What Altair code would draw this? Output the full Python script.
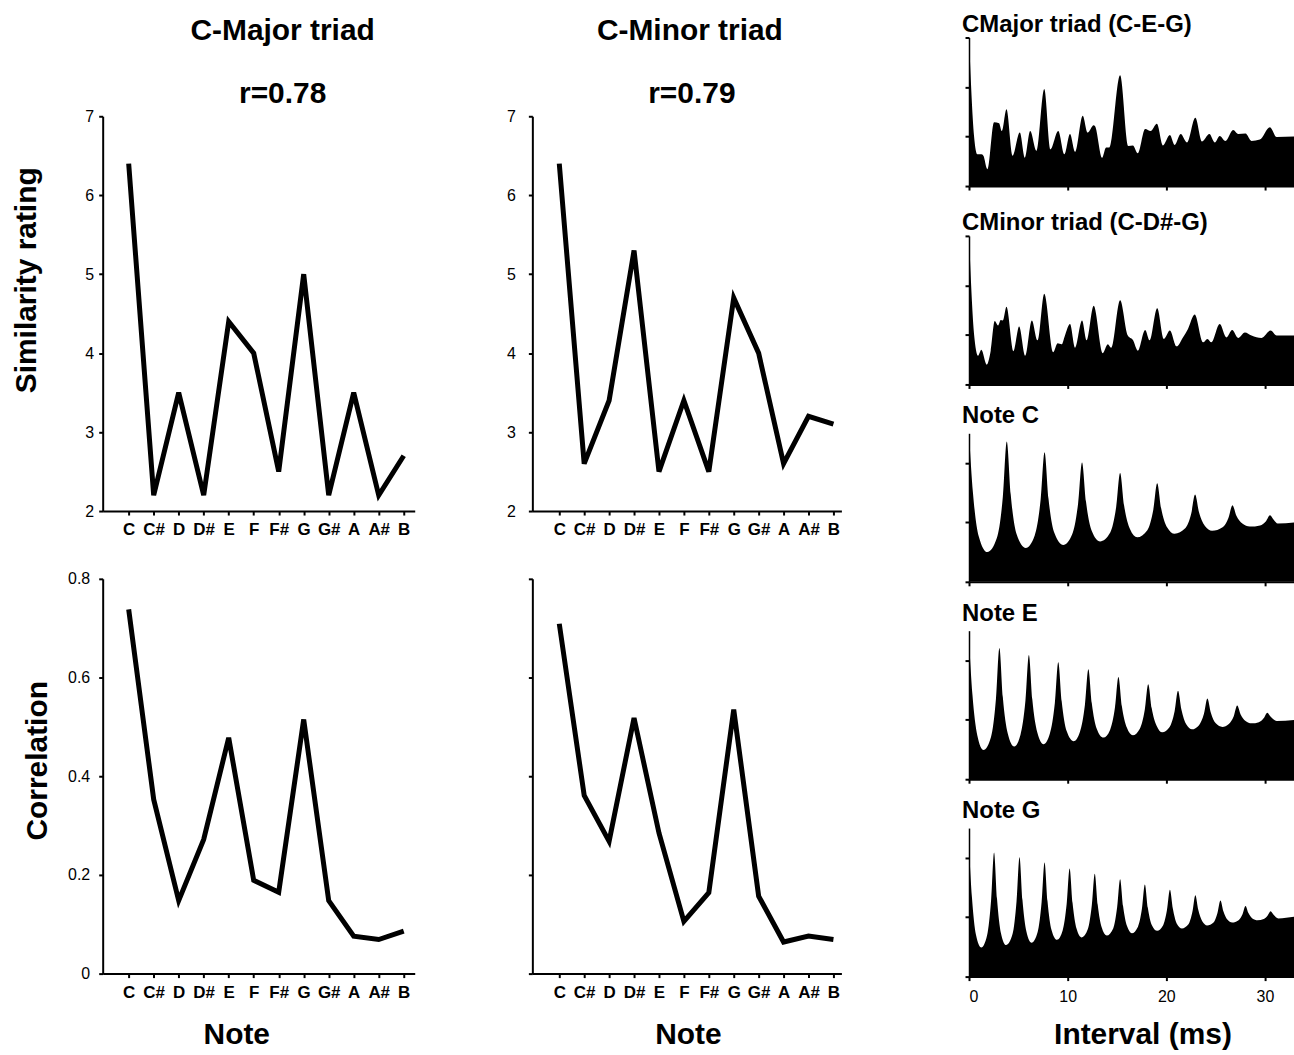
import altair as alt
import pandas as pd

FONT = "Liberation Sans"

# ---------------- left panels ----------------
notes = ["C", "C#", "D", "D#", "E", "F", "F#", "G", "G#", "A", "A#", "B"]
major_similarity = [6.4, 2.2, 3.5, 2.2, 4.4, 4.0, 2.5, 5.0, 2.2, 3.5, 2.2, 2.7]
minor_similarity = [6.4, 2.6, 3.4, 5.3, 2.5, 3.4, 2.5, 4.7, 4.0, 2.6, 3.2, 3.1]
major_correlation = [0.738, 0.353, 0.148, 0.272, 0.478, 0.189, 0.165, 0.515, 0.148, 0.076, 0.069, 0.086]
minor_correlation = [0.709, 0.361, 0.268, 0.518, 0.285, 0.106, 0.164, 0.535, 0.157, 0.064, 0.076, 0.069]

# ---------------- right panels (interval in ms, relative value) ----------------
cmaj_ms = [0, 0.51, 0.85, 1.25, 1.46, 1.86, 2.54, 3.05, 3.32, 3.80, 4.41, 5.15, 5.66, 6.20, 6.85,
           7.63, 8.24, 9.05, 9.66, 10.24, 10.75, 11.53, 12.03, 12.64, 12.78, 13.49, 13.90, 14.24,
           15.32, 16.17, 16.61, 17.12, 17.86, 18.41, 19.05, 19.66, 20.37, 20.85, 21.46, 22.10,
           22.95, 23.63, 24.37, 24.92, 25.42, 26.00, 26.78, 27.29, 28.03, 28.64, 29.49, 30.51,
           31.19, 33.1]
cmaj_val = [3.00, 1.01, 0.64, 0.64, 0.61, 0.34, 1.29, 1.27, 1.11, 1.55, 0.61, 1.08, 0.57, 1.11, 0.71,
            1.96, 0.74, 1.11, 0.64, 1.05, 0.69, 1.42, 1.08, 1.23, 1.21, 0.57, 0.78, 0.78,
            2.24, 0.81, 0.82, 0.66, 1.15, 1.11, 1.26, 0.82, 1.03, 0.83, 1.05, 0.88,
            1.38, 0.90, 1.05, 0.88, 1.01, 0.91, 1.13, 1.05, 1.06, 0.91, 0.94, 1.19,
            0.99, 1.00]

cmin_ms = [0, 0.51, 0.92, 1.25, 1.80, 2.20, 2.61, 2.95, 3.22, 3.42, 3.80, 4.51, 5.08, 5.69, 6.37,
           6.95, 7.63, 8.54, 8.98, 9.39, 9.73, 10.24, 10.75, 11.46, 11.93, 12.64, 13.56, 14.07,
           14.41, 15.32, 16.10, 16.61, 17.12, 17.86, 18.31, 19.08, 19.76, 20.37, 21.05, 21.69,
           22.20, 22.88, 23.73, 24.17, 24.58, 25.42, 26.10, 26.68, 27.29, 27.97, 28.64, 29.66,
           30.58, 31.19, 33.1]
cmin_val = [3.0, 1.02, 0.58, 0.70, 0.40, 0.68, 1.28, 1.19, 1.30, 1.29, 1.57, 0.67, 1.17, 0.58, 1.29,
            0.89, 1.83, 0.65, 0.83, 0.81, 0.99, 1.22, 0.74, 1.29, 0.89, 1.59, 0.63, 0.81,
            0.74, 1.70, 0.99, 0.90, 0.68, 1.10, 0.89, 1.54, 0.92, 1.09, 0.77, 0.95,
            1.12, 1.41, 0.85, 0.92, 0.85, 1.22, 0.95, 1.10, 0.94, 1.05, 0.99, 0.94,
            1.09, 0.99, 0.99]

notec_ms = [0, 0.4, 1.0, 1.86,
            2.83, 3.43, 3.83, 4.23, 4.83, 5.76,
            6.66, 7.26, 7.66, 8.06, 8.66, 9.56,
            10.46, 11.06, 11.46, 11.86, 12.46, 13.29,
            14.32, 14.92, 15.32, 15.72, 16.32, 17.05,
            18.08, 18.68, 19.08, 19.48, 20.08, 20.85,
            21.92, 22.52, 22.92, 23.32, 23.92, 24.64,
            25.71, 26.31, 26.71, 27.11, 27.71, 28.47,
            29.51, 30.11, 30.51, 30.91, 31.3, 33.1]
notec_val = [2.49, 1.50, 0.76, 0.50,
             0.74, 1.43, 2.36, 1.47, 0.80, 0.57,
             0.78, 1.38, 2.18, 1.40, 0.82, 0.62,
             0.80, 1.32, 2.01, 1.35, 0.85, 0.68,
             0.83, 1.26, 1.83, 1.29, 0.89, 0.75,
             0.87, 1.21, 1.66, 1.24, 0.92, 0.81,
             0.90, 1.14, 1.47, 1.17, 0.94, 0.86,
             0.92, 1.08, 1.29, 1.11, 0.98, 0.93,
             0.95, 1.02, 1.12, 1.04, 0.98, 1.00]

notee_ms = [0, 0.35, 0.85, 1.46,
            2.23, 2.73, 3.08, 3.43, 3.93, 4.58,
            5.22, 5.72, 6.07, 6.42, 6.92, 7.56,
            8.20, 8.70, 9.05, 9.40, 9.90, 10.61,
            11.25, 11.75, 12.10, 12.45, 12.95, 13.63,
            14.30, 14.80, 15.15, 15.50, 16.00, 16.61,
            17.32, 17.82, 18.17, 18.52, 19.02, 19.59,
            20.34, 20.84, 21.19, 21.54, 22.04, 22.61,
            23.32, 23.82, 24.17, 24.52, 25.02, 25.69,
            26.34, 26.84, 27.19, 27.54, 28.04, 28.64,
            29.39, 29.89, 30.24, 30.59, 31.19, 33.1]
notee_val = [2.34, 1.42, 0.73, 0.49,
             0.71, 1.35, 2.21, 1.38, 0.77, 0.55,
             0.75, 1.32, 2.09, 1.34, 0.79, 0.59,
             0.77, 1.28, 1.97, 1.31, 0.81, 0.64,
             0.80, 1.25, 1.85, 1.28, 0.85, 0.70,
             0.83, 1.21, 1.72, 1.23, 0.87, 0.74,
             0.85, 1.17, 1.60, 1.20, 0.90, 0.79,
             0.88, 1.14, 1.49, 1.17, 0.92, 0.84,
             0.91, 1.10, 1.36, 1.12, 0.94, 0.88,
             0.93, 1.06, 1.24, 1.09, 0.98, 0.94,
             0.96, 1.03, 1.12, 1.05, 0.98, 1.00]

noteg_ms = [0, 0.3, 0.7, 1.25,
            1.84, 2.24, 2.54, 2.84, 3.24, 3.76,
            4.42, 4.82, 5.12, 5.42, 5.82, 6.34,
            6.96, 7.36, 7.66, 7.96, 8.36, 8.92,
            9.50, 9.90, 10.20, 10.50, 10.90, 11.42,
            12.05, 12.45, 12.75, 13.05, 13.45, 13.97,
            14.62, 15.02, 15.32, 15.62, 16.02, 16.51,
            17.13, 17.53, 17.83, 18.13, 18.53, 19.08,
            19.67, 20.07, 20.37, 20.67, 21.07, 21.59,
            22.25, 22.65, 22.95, 23.25, 23.65, 24.14,
            24.79, 25.19, 25.49, 25.79, 26.19, 26.68,
            27.33, 27.73, 28.03, 28.33, 28.73, 29.25,
            29.88, 30.28, 30.58, 30.88, 31.36, 33.1]
noteg_val = [2.17, 1.33, 0.71, 0.49,
             0.70, 1.29, 2.09, 1.31, 0.73, 0.53,
             0.72, 1.27, 2.01, 1.29, 0.76, 0.57,
             0.75, 1.25, 1.92, 1.27, 0.79, 0.62,
             0.78, 1.22, 1.82, 1.24, 0.81, 0.66,
             0.80, 1.20, 1.73, 1.21, 0.83, 0.69,
             0.81, 1.17, 1.64, 1.19, 0.85, 0.73,
             0.84, 1.14, 1.55, 1.16, 0.87, 0.77,
             0.86, 1.12, 1.46, 1.14, 0.89, 0.81,
             0.88, 1.09, 1.37, 1.12, 0.93, 0.86,
             0.91, 1.07, 1.28, 1.10, 0.96, 0.91,
             0.95, 1.05, 1.19, 1.07, 0.98, 0.95,
             0.97, 1.03, 1.10, 1.04, 0.98, 1.01]

NOTE_EXPR = "[" + ",".join("'%s'" % n for n in notes) + "][datum.value]"


def note_chart(values, ydomain, yvalues, width, height, xdomain, ylabels=True,
               ylabel_pad=5, yformat=None, ytitle=None, ytitle_x=0, ytitle_y=0,
               xlabel_pad=5, xtitle=None, xtitle_x=0, title=None):
    df = pd.DataFrame({"i": list(range(len(notes))), "v": values})
    xaxis_kw = dict(values=list(range(12)), labelExpr=NOTE_EXPR, labelFontWeight="bold",
                    labelFontSize=17, labelPadding=xlabel_pad, tickSize=4)
    if xtitle:
        xaxis_kw.update(title=xtitle, titleX=xtitle_x, titleY=46, titleFontSize=30,
                        titleFontWeight="bold")
    else:
        xaxis_kw.update(title=None)
    yaxis_kw = dict(values=yvalues, labels=ylabels, labelPadding=ylabel_pad, tickSize=4,
                    labelFontSize=16)
    if yformat:
        yaxis_kw.update(format=yformat)
    if ytitle:
        yaxis_kw.update(title=ytitle, titleX=ytitle_x, titleY=ytitle_y, titleFontSize=30,
                        titleFontWeight="bold")
    else:
        yaxis_kw.update(title=None)
    kw = {}
    if title is not None:
        kw["title"] = title
    return alt.Chart(df, **kw).mark_line(
        color="black", strokeWidth=5, strokeJoin="miter", strokeCap="butt"
    ).encode(
        x=alt.X("i:Q", scale=alt.Scale(domain=xdomain, nice=False, zero=False),
                axis=alt.Axis(**xaxis_kw)),
        y=alt.Y("v:Q", scale=alt.Scale(domain=ydomain, nice=False, zero=False),
                axis=alt.Axis(**yaxis_kw)),
    ).properties(width=width, height=height)


def sub_title(text, dx):
    return alt.Title(text, fontSize=30, fontWeight="bold", font=FONT,
                     offset=-1, dx=dx, anchor="middle", color="black")


def header(text, width, dx):
    # empty strip that only carries the panel-column heading
    return alt.Chart(pd.DataFrame({"t": [""]}),
                     title=alt.Title(text, fontSize=30, fontWeight="bold", font=FONT,
                                     offset=-8.5, dx=dx, anchor="middle", color="black")
                     ).mark_text().encode(text="t:N").properties(width=width, height=30)


tl = note_chart(major_similarity, [2, 7], [2, 3, 4, 5, 6, 7], 313, 396, [-1.04, 11.44],
                ylabel_pad=5, ytitle="Similarity rating", ytitle_x=-61, ytitle_y=164,
                xlabel_pad=7, title=sub_title("r=0.78", 24))
bl = note_chart(major_correlation, [0, 0.8], [0, 0.2, 0.4, 0.6, 0.8], 313, 396, [-1.04, 11.44],
                ylabel_pad=9, yformat="~g", ytitle="Correlation", ytitle_x=-50, ytitle_y=182,
                xlabel_pad=7, xtitle="Note", xtitle_x=134)
tm = note_chart(minor_similarity, [2, 7], [2, 3, 4, 5, 6, 7], 310, 396, [-1.08, 11.32],
                ylabel_pad=13, xlabel_pad=7, title=sub_title("r=0.79", 5))
bm = note_chart(minor_correlation, [0, 0.8], [0, 0.2, 0.4, 0.6, 0.8], 310, 396, [-1.08, 11.32],
                ylabels=False, xlabel_pad=7, xtitle="Note", xtitle_x=156)


def trace_chart(ms, vals, title, ymax, yticks, title_offset=0, last=False):
    df = pd.DataFrame({"ms": ms, "v": vals})
    xaxis_kw = dict(values=[0, 10, 20, 30], tickSize=4, labelFontSize=16, labelPadding=8)
    if last:
        xaxis_kw.update(title="Interval (ms)", titleFontSize=30, titleFontWeight="bold",
                        titleX=174, titleY=43)
    else:
        xaxis_kw.update(labels=False, title=None)
    return alt.Chart(df, title=alt.Title(title, anchor="start", fontSize=24, fontWeight="bold",
                                         font=FONT, offset=title_offset, dx=-2,
                                         color="black")).mark_area(
        color="black", interpolate="monotone", clip=True
    ).encode(
        x=alt.X("ms:Q", scale=alt.Scale(domain=[0, 32.95], nice=False, zero=False),
                axis=alt.Axis(**xaxis_kw)),
        y=alt.Y("v:Q", scale=alt.Scale(domain=[0, ymax], nice=False, zero=True),
                axis=alt.Axis(values=yticks, labels=False, title=None, tickSize=4,
                              domainWidth=1.5)),
    ).properties(width=326, height=149)


p1 = trace_chart(cmaj_ms, cmaj_val, "CMajor triad (C-E-G)", 3, [0, 1, 2, 3])
p2 = trace_chart(cmin_ms, cmin_val, "CMinor triad (C-D#-G)", 3, [0, 1, 2, 3])
p3 = trace_chart(notec_ms, notec_val, "Note C", 2.5, [0, 1, 2], title_offset=5)
p4 = trace_chart(notee_ms, notee_val, "Note E", 2.5, [0, 1, 2], title_offset=5)
p5 = trace_chart(noteg_ms, noteg_val, "Note G", 2.5, [0, 1, 2], title_offset=5, last=True)

head = alt.hconcat(header("C-Major triad", 313, 24), header("C-Minor triad", 310, 5), spacing=116)
col1 = alt.vconcat(tl, bl, spacing=33)
col2 = alt.vconcat(tm, bm, spacing=40)
body = alt.hconcat(col1, col2, spacing=92)
left = alt.vconcat(head, body, spacing=12)
triads = alt.vconcat(p1, p2, spacing=20)
single = alt.vconcat(p3, p4, p5, spacing=15)
col3 = alt.vconcat(triads, single, spacing=15)

chart = alt.concat(left, col3, columns=2, spacing=119).properties(
    padding={"left": 12, "top": 11, "right": 0, "bottom": 0}
).configure(font=FONT).configure_view(strokeWidth=0).configure_axis(
    grid=False, domainColor="black", domainWidth=2, tickColor="black", tickWidth=2,
    labelColor="black", titleColor="black", labelFont=FONT, titleFont=FONT
)

chart.save("out.html", embed_options={"renderer": "svg", "actions": False})
